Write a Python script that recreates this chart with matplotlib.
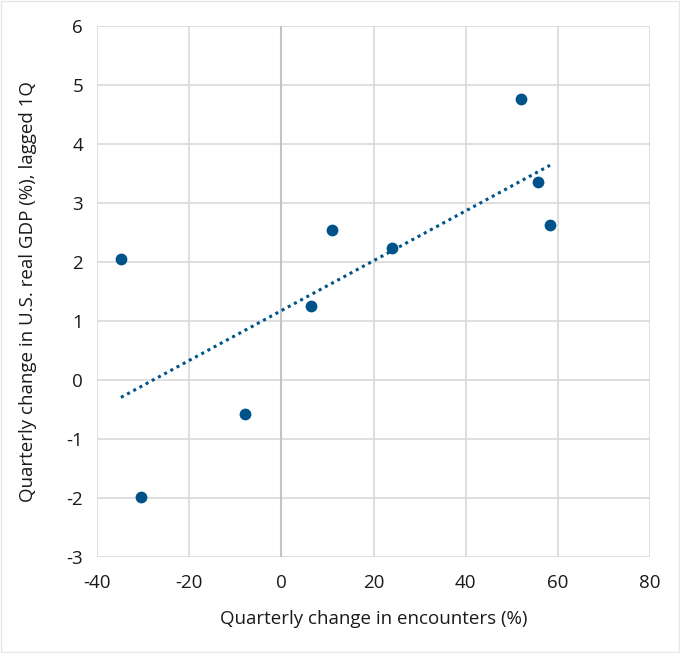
import numpy as np
import matplotlib.pyplot as plt

plt.rcParams['font.family'] = ['Open Sans', 'DejaVu Sans']
plt.rcParams['axes.unicode_minus'] = False

encounters = [-34.8, -30.5, -7.9, 6.4, 11.1, 24.1, 51.9, 55.8, 58.3]
gdp = [2.05, -1.99, -0.57, 1.25, 2.54, 2.23, 4.77, 3.35, 2.63]

xlabel = "Quarterly change in encounters (%)"
ylabel = "Quarterly change in U.S. real GDP (%), lagged 1Q"

blue = "#00538a"

fig = plt.figure(figsize=(6.8, 6.53), dpi=100)
ax = fig.add_axes([97 / 680, 1 - 557 / 653, 553 / 680, 531 / 653])

ax.set_xlim(-40, 80)
ax.set_ylim(-3, 6)
ax.set_xticks(range(-40, 81, 20))
ax.set_yticks(range(-3, 7))
ax.grid(True, color="#d9d9d9", linewidth=1.2)
ax.set_axisbelow(True)
for s in ax.spines.values():
    s.set_visible(False)
ax.axvline(0, color="#c4c4c4", linewidth=1.5, zorder=1)
ax.tick_params(length=0, labelsize=13.5, colors="#1a1a1a")
ax.tick_params(axis="x", pad=12)
ax.tick_params(axis="y", pad=10)

# linear trendline
m, b = np.polyfit(encounters, gdp, 1)
xs = np.array([min(encounters), max(encounters)])
ax.plot(xs, m * xs + b, color=blue, linestyle=(0, (1, 1.3)), linewidth=2.2, zorder=2)

ax.scatter(encounters, gdp, s=72, color=blue, zorder=3, linewidths=0)

ax.set_xlabel(xlabel, fontsize=13.5, color="#1a1a1a", labelpad=13)
ax.set_ylabel(ylabel, fontsize=13.5, color="#1a1a1a", labelpad=21)

fig.patches.append(plt.Rectangle((0.002, 0.002), 0.996, 0.996, transform=fig.transFigure,
                                 fill=False, edgecolor="#e6e6e6", linewidth=1))

fig.savefig("out.png", dpi=100)
